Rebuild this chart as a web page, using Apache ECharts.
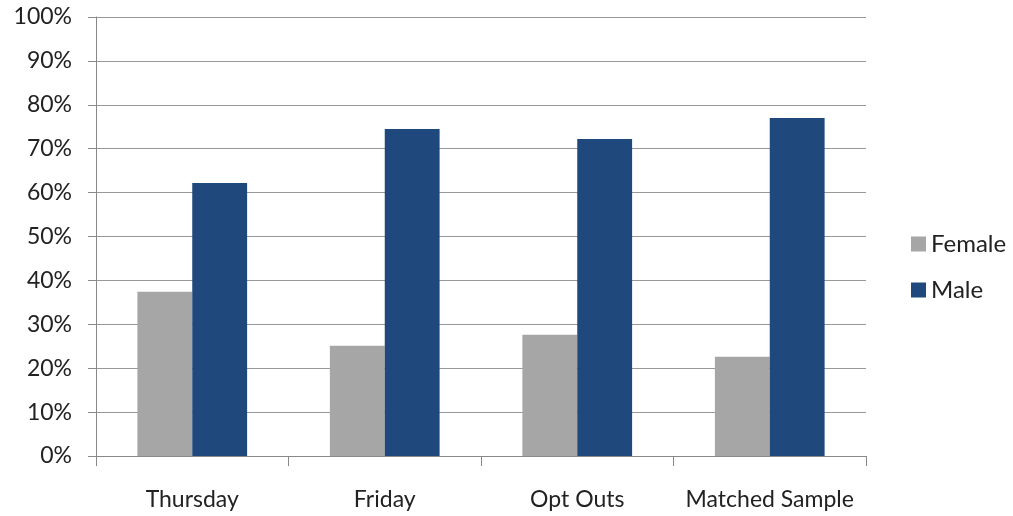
<!DOCTYPE html>
<html><head><meta charset="utf-8">
<script src="https://cdn.jsdelivr.net/npm/echarts@6/dist/echarts.min.js"></script>
<style>html,body{margin:0;padding:0;background:#fff}#c{width:1013px;height:516px}</style>
</head><body><div id="c"></div>
<script>
const categories = ["Thursday", "Friday", "Opt Outs", "Matched Sample"];
const female = [37.4, 25.1, 27.6, 22.6];
const male = [62.2, 74.5, 72.2, 77.0];
const yTicks = [0, 10, 20, 30, 40, 50, 60, 70, 80, 90, 100];

const font = "Lato, 'Open Sans', sans-serif";
const chart = echarts.init(document.getElementById('c'));
chart.setOption({
  animation: false,
  grid: { left: 96, right: 147, top: 17, bottom: 60 },
  legend: {
    orient: 'vertical', left: 906, top: 227, itemGap: 22,
    itemWidth: 15, itemHeight: 15, icon: 'rect', itemStyle: { borderWidth: 0 },
    textStyle: { fontFamily: font, fontSize: 24, color: '#222' },
    data: ['Female', 'Male']
  },
  xAxis: {
    type: 'category', data: categories,
    axisLine: { lineStyle: { color: '#888', width: 1 } },
    axisTick: { show: true, interval: 0, length: 10, lineStyle: { color: '#888' } },
    axisLabel: { interval: 0, fontFamily: font, fontSize: 23, color: '#222', margin: 32 }
  },
  yAxis: {
    type: 'value', min: 0, max: 100, interval: 10,
    axisLine: { show: true, lineStyle: { color: '#888' } },
    axisTick: { show: true, length: 8, lineStyle: { color: '#888' } },
    splitLine: { lineStyle: { color: '#999', width: 1 } },
    axisLabel: { fontFamily: font, fontSize: 23, color: '#222', margin: 24,
      formatter: v => yTicks.includes(v) ? v + '%' : '' }
  },
  series: [
    { name: 'Female', type: 'bar', data: female, barGap: '0%', barCategoryGap: '43%',
      itemStyle: { color: '#A6A6A6' } },
    { name: 'Male', type: 'bar', data: male, barGap: '0%', barCategoryGap: '43%',
      itemStyle: { color: '#1F497D' } }
  ]
});
</script></body></html>
